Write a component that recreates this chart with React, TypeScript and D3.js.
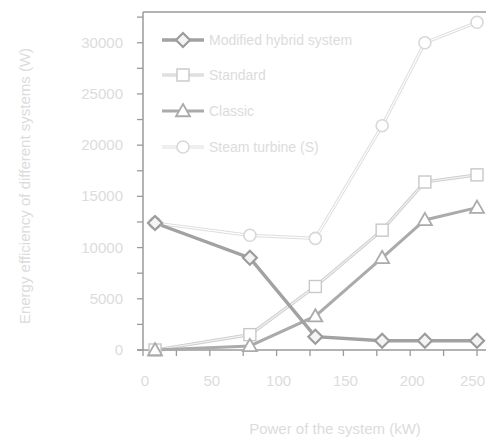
import React from "react";
import * as d3 from "d3";

const xValues = [9, 80, 129, 179, 211, 250];
const modified = [12400, 9000, 1300, 900, 900, 900];
const standard = [0, 1500, 6200, 11700, 16400, 17100];
const classic = [0, 400, 3300, 9000, 12700, 13900];
const steam = [12400, 11200, 10900, 21900, 30000, 32000];
const xTicks = [0, 50, 100, 150, 200, 250];
const yTicks = [0, 5000, 10000, 15000, 20000, 25000, 30000];
const seriesNames = ["Modified hybrid system", "Standard", "Classic", "Steam turbine   (S)"];

const W = 486, H = 440;
const left = 143, right = 486, top = 12, bottom = 350;

export default function App() {
  const x = d3.scaleLinear().domain([0, 250]).range([left, 477]);
  const y = d3.scaleLinear().domain([0, 33000]).range([bottom, top]);
  const line = (vals: number[]) =>
    d3.line<number>().x((_, i) => x(xValues[i])).y((v) => y(v))(vals) || "";
  const minorX = d3.range(0, 256, 25);
  const minorY = d3.range(0, 33001, 2500);
  const font = "Liberation Sans, Arial, sans-serif";
  const txt = "#dcdcdc";

  const diamond = (cx: number, cy: number, s: number, k: string) => (
    <path key={k} d={`M${cx},${cy - s}L${cx + s},${cy}L${cx},${cy + s}L${cx - s},${cy}Z`}
      fill="#f4f4f4" stroke="#9c9c9c" strokeWidth={2.2} />
  );
  const square = (cx: number, cy: number, s: number, k: string) => (
    <rect key={k} x={cx - s} y={cy - s} width={2 * s} height={2 * s} fill="#fff" stroke="#c8c8c8" strokeWidth={1.4} />
  );
  const tri = (cx: number, cy: number, s: number, k: string) => (
    <path key={k} d={`M${cx},${cy - s}L${cx + s},${cy + s * 0.75}L${cx - s},${cy + s * 0.75}Z`}
      fill="#fff" stroke="#ababab" strokeWidth={1.8} />
  );
  const circ = (cx: number, cy: number, s: number, k: string) => (
    <circle key={k} cx={cx} cy={cy} r={s} fill="#fff" stroke="#d8d8d8" strokeWidth={1.6} />
  );

  const legendRows = [
    { y: 40, kind: "d" },
    { y: 75, kind: "s" },
    { y: 111, kind: "t" },
    { y: 147, kind: "c" },
  ];

  return (
    <svg width={W} height={H} style={{ display: "block", position: "absolute", left: 0, top: 0, background: "#fff" }}>
      <line x1={left} x2={right} y1={top} y2={top} stroke="#9a9a9a" strokeWidth={1.5} />
      <line x1={left} x2={left} y1={top} y2={bottom} stroke="#9a9a9a" strokeWidth={1.5} />
      <line x1={left - 6} x2={right} y1={bottom} y2={bottom} stroke="#9a9a9a" strokeWidth={1.5} />
      {minorY.map((v) => (
        <line key={"yt" + v} x1={left - 6} x2={left} y1={y(v)} y2={y(v)} stroke="#9a9a9a" strokeWidth={1.3} />
      ))}
      {minorX.map((v) => (
        <line key={"xt" + v} x1={x(v)} x2={x(v)} y1={bottom} y2={bottom + 6} stroke="#9a9a9a" strokeWidth={1.3} />
      ))}
      {yTicks.map((v) => (
        <text key={"yl" + v} x={123} y={y(v) + 5} textAnchor="end" fontSize={15} fontFamily={font} fill={txt}>{v}</text>
      ))}
      {xTicks.map((v, i) => (
        <text key={"xl" + v} x={i === xTicks.length - 1 ? 485 : x(v) + 2} y={386}
          textAnchor={i === xTicks.length - 1 ? "end" : "middle"} fontSize={15} fontFamily={font} fill={txt}>{v}</text>
      ))}
      <text x={335} y={434} textAnchor="middle" fontSize={15} fontFamily={font} fill={txt}>Power of the system (kW)</text>
      <text transform="translate(30,186) rotate(-90)" textAnchor="middle" fontSize={15} fontFamily={font} fill={txt}>
        Energy efficiency of different systems (W)
      </text>

      <path d={line(steam)} fill="none" stroke="#dedede" strokeWidth={3.2} />
      <path d={line(steam)} fill="none" stroke="#fff" strokeWidth={1.2} />
      <path d={line(standard)} fill="none" stroke="#cfcfcf" strokeWidth={3.2} />
      <path d={line(standard)} fill="none" stroke="#f2f2f2" strokeWidth={1.1} />
      <path d={line(classic)} fill="none" stroke="#ababab" strokeWidth={3} />
      <path d={line(modified)} fill="none" stroke="#a2a2a2" strokeWidth={3.4} />

      {steam.map((v, i) => circ(x(xValues[i]), y(v), 6, "c" + i))}
      {standard.map((v, i) => square(x(xValues[i]), y(v), 6, "s" + i))}
      {classic.map((v, i) => tri(x(xValues[i]), y(v), 7, "t" + i))}
      {modified.map((v, i) => diamond(x(xValues[i]), y(v), 7, "d" + i))}

      {legendRows.map((r, i) => {
        const x1 = 162, x2 = 204, cx = 183;
        return (
          <g key={"lg" + i}>
            {r.kind === "d" && <line x1={x1} x2={x2} y1={r.y} y2={r.y} stroke="#a2a2a2" strokeWidth={3.4} />}
            {r.kind === "s" && (
              <>
                <line x1={x1} x2={x2} y1={r.y} y2={r.y} stroke="#cfcfcf" strokeWidth={3.2} />
                <line x1={x1} x2={x2} y1={r.y} y2={r.y} stroke="#f2f2f2" strokeWidth={1.1} />
              </>
            )}
            {r.kind === "t" && <line x1={x1} x2={x2} y1={r.y} y2={r.y} stroke="#ababab" strokeWidth={3} />}
            {r.kind === "c" && (
              <>
                <line x1={x1} x2={x2} y1={r.y} y2={r.y} stroke="#dedede" strokeWidth={3.2} />
                <line x1={x1} x2={x2} y1={r.y} y2={r.y} stroke="#fff" strokeWidth={1.2} />
              </>
            )}
            {r.kind === "d" && diamond(cx, r.y, 7, "ld")}
            {r.kind === "s" && square(cx, r.y, 6, "ls")}
            {r.kind === "t" && tri(cx, r.y, 7, "lt")}
            {r.kind === "c" && circ(cx, r.y, 6, "lc")}
            <text x={209} y={r.y + 5} fontSize={14} fontFamily={font} fill={txt}>{seriesNames[i]}</text>
          </g>
        );
      })}
    </svg>
  );
}
